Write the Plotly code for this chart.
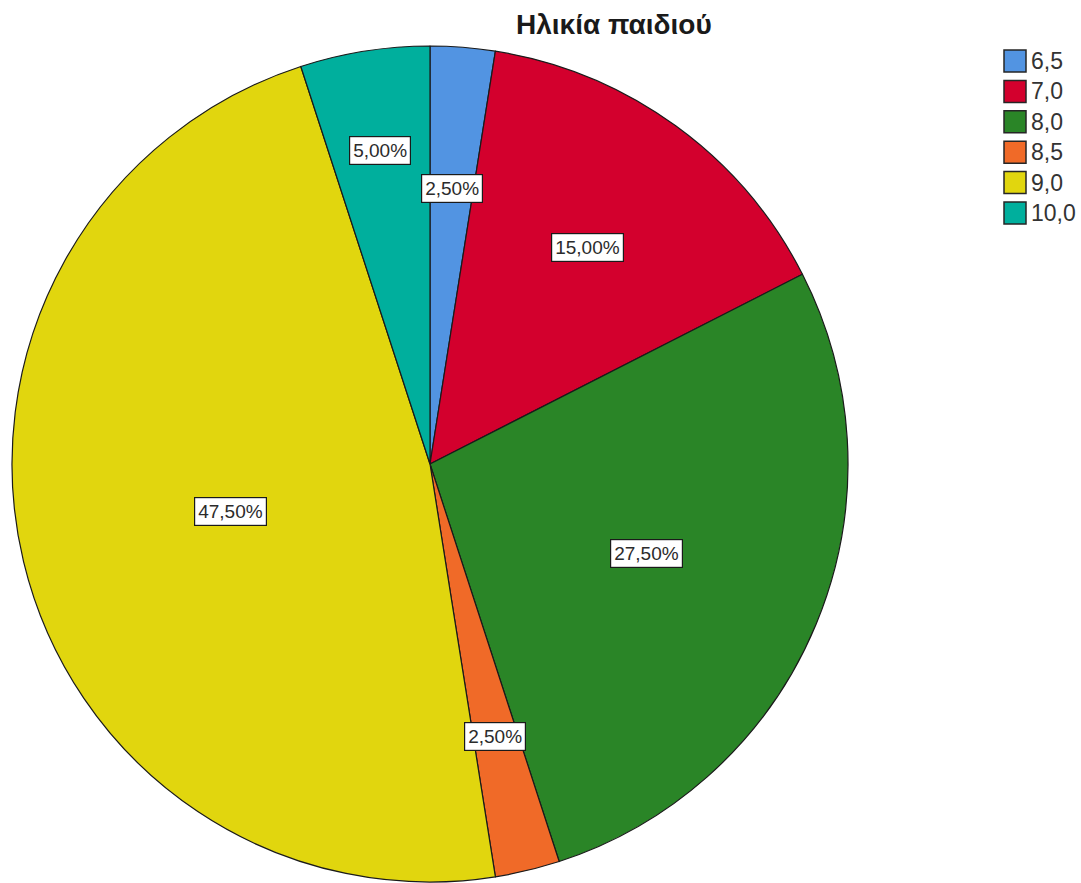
import math
import plotly.graph_objects as go

# Age of child: share of each age group
ages = ["6,5", "7,0", "8,0", "8,5", "9,0", "10,0"]
shares = [2.5, 15.0, 27.5, 2.5, 47.5, 5.0]
pct_labels = ["2,50%", "15,00%", "27,50%", "2,50%", "47,50%", "5,00%"]
colors = ["#5294E2", "#D3002D", "#2A8527", "#F06A28", "#E1D60E", "#00AF9D"]

# radial placement of each percentage box, as a fraction of the pie radius
label_radius = [0.66, 0.64, 0.56, 0.67, 0.49, 0.76]

W, H = 1081, 883
FONT = "Arial, Liberation Sans, sans-serif"

# pie geometry in pixels
cx_px, cy_px, r_px = 430, 464, 418


def px_x(x):
    return x / W


def px_y(y):
    return 1 - y / H


fig = go.Figure()
fig.add_trace(go.Pie(
    labels=ages,
    values=shares,
    sort=False,
    direction="clockwise",
    rotation=0,
    textinfo="none",
    marker=dict(colors=colors, line=dict(color="#1a1a1a", width=1.2)),
    domain=dict(x=[px_x(cx_px - r_px), px_x(cx_px + r_px)],
                y=[px_y(cy_px + r_px), px_y(cy_px - r_px)]),
    showlegend=False,
    hovertemplate="%{label}: %{percent}<extra></extra>",
))

annotations = []
shapes = []

# percentage boxes placed along each slice's mid-angle
total = sum(shares)
cum = 0.0
for val, txt, rf in zip(shares, pct_labels, label_radius):
    mid = (cum + val / 2) / total * 2 * math.pi
    cum += val
    lx = cx_px + rf * r_px * math.sin(mid)
    ly = cy_px - rf * r_px * math.cos(mid)
    annotations.append(dict(
        x=px_x(lx), y=px_y(ly), xref="paper", yref="paper",
        text=txt, showarrow=False, xanchor="center", yanchor="middle",
        font=dict(family=FONT, size=19, color="#2b2b2b"),
        bgcolor="white", bordercolor="#1a1a1a", borderwidth=1.2, borderpad=3,
    ))

# title
annotations.append(dict(
    x=px_x(614), y=px_y(25), xref="paper", yref="paper",
    text="<b>Ηλικία παιδιού</b>", showarrow=False,
    xanchor="center", yanchor="middle",
    font=dict(family=FONT, size=28, color="#1a1a1a"),
))

# legend: swatches with labels
sw_left, sw_size, top0, step = 1004, 22, 50, 30.4
for i, (age, col) in enumerate(zip(ages, colors)):
    top = top0 + i * step
    shapes.append(dict(
        type="rect", xref="paper", yref="paper",
        x0=px_x(sw_left), x1=px_x(sw_left + sw_size),
        y0=px_y(top + sw_size), y1=px_y(top),
        fillcolor=col, line=dict(color="#262626", width=1.5),
    ))
    annotations.append(dict(
        x=px_x(sw_left + sw_size + 3), y=px_y(top + sw_size / 2),
        xref="paper", yref="paper", text=age, showarrow=False,
        xanchor="left", yanchor="middle",
        font=dict(family=FONT, size=23, color="#333333"),
    ))

fig.update_layout(
    width=W, height=H,
    margin=dict(l=0, r=0, t=0, b=0),
    paper_bgcolor="white", plot_bgcolor="white",
    annotations=annotations, shapes=shapes,
)

fig.write_html("out.html")
